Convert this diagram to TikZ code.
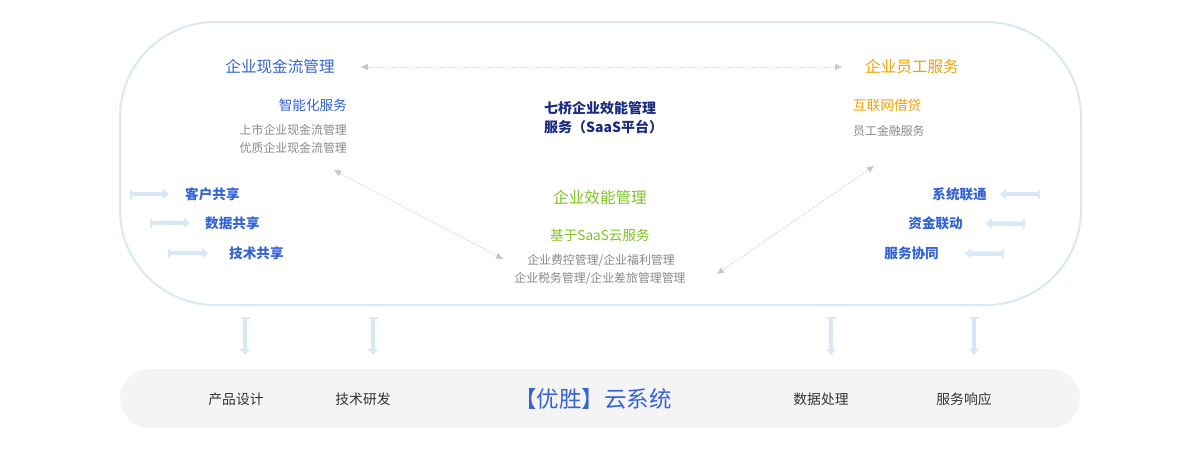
\documentclass[tikz,border=0pt]{standalone}
\usepackage{fontspec}
\setmainfont{Noto Sans CJK SC}
\usetikzlibrary{arrows.meta}
\definecolor{qblue}{RGB}{51,99,214}
\definecolor{qorange}{RGB}{245,160,0}
\definecolor{qgreen}{RGB}{124,197,34}
\definecolor{qnavy}{RGB}{27,42,128}
\definecolor{qgray}{RGB}{136,136,136}
\definecolor{qdark}{RGB}{51,51,51}
\definecolor{qline}{RGB}{216,232,246}
\definecolor{qdot}{RGB}{200,200,200}
\definecolor{qbar}{RGB}{244,244,244}
\begin{document}
\begin{tikzpicture}[x=1pt, y=-1pt, >={Triangle[length=7pt,width=6pt]},
    txt/.style={inner sep=1pt},
    big/.style={txt, font=\fontsize{15.6}{18}\selectfont},
    mid/.style={txt, font=\fontsize{13.6}{16}\selectfont},
    small/.style={txt, text=qgray, font=\fontsize{11.9}{14}\selectfont},
    dots/.style={qdot, line width=1pt, dash pattern=on 1pt off 2pt, <->},
    fat/.style={qline, line width=4.5pt, {Bar[width=9pt,line width=2pt]}-{Triangle[length=6pt,width=10pt]}}]
  \useasboundingbox (0,0) rectangle (1200,458);
  % outer frame and base bar
  \draw[qline, line width=2pt, rounded corners=95pt] (120,22) rectangle (1081,305);
  \fill[qbar, rounded corners=29.5pt] (120,369) rectangle (1080,428);

  % top row
  \node[big, text=qblue] (cash) at (280,67) {企业现金流管理};
  \node[big, text=qorange] (staff) at (912,67) {企业员工服务};
  \draw[dots, shorten <=25pt, shorten >=22pt] (cash) -- (staff);

  \node[mid, text=qblue, anchor=east] (smart) at (348,105) {智能化服务};
  \node[small, anchor=east] (listed) at (348,130) {上市企业现金流管理};
  \node[small, anchor=east] (quality) at (348,148) {优质企业现金流管理};

  \node[mid, text=qnavy, font=\fontsize{14}{16}\selectfont\bfseries, anchor=west] (qiqiao) at (543,108) {七桥企业效能管理};
  \node[mid, text=qnavy, font=\fontsize{14}{16}\selectfont\bfseries, anchor=west] (saas) at (543,127) {服务（SaaS平台）};

  \node[mid, text=qorange, anchor=west] (loan) at (852,105) {互联网借贷};
  \node[small, anchor=west] (finance) at (852,131) {员工金融服务};

  % middle
  \node[big, text=qgreen] (eff) at (600,198) {企业效能管理};
  \node[mid, text=qgreen] (cloud) at (600,235) {基于SaaS云服务};
  \node[small] (fee) at (601,261) {企业费控管理/企业福利管理};
  \node[small] (tax) at (600,279) {企业税务管理/企业差旅管理管理};

  \coordinate (dl1) at (334,170);
  \coordinate (dl2) at (503,259);
  \coordinate (dr1) at (874,166);
  \coordinate (dr2) at (717,274);
  \draw[dots] (dl1) -- (dl2);
  \draw[dots] (dr1) -- (dr2);

  % left shares
  \node[mid, text=qblue, font=\fontsize{13.6}{16}\selectfont\bfseries, anchor=west] (client) at (184,194) {客户共享};
  \node[mid, text=qblue, font=\fontsize{13.6}{16}\selectfont\bfseries, anchor=west] (data) at (204,223) {数据共享};
  \node[mid, text=qblue, font=\fontsize{13.6}{16}\selectfont\bfseries, anchor=west] (tech) at (228,253) {技术共享};
  \coordinate (lc) at (130,194);
  \coordinate (ld) at (150,223);
  \coordinate (lt) at (168,253);
  \draw[fat, shorten >=15pt] (lc) -- (client.west);
  \draw[fat, shorten >=14pt] (ld) -- (data.west);
  \draw[fat, shorten >=20pt] (lt) -- (tech.west);

  % right links
  \node[mid, text=qblue, font=\fontsize{13.6}{16}\selectfont\bfseries, anchor=east] (system) at (988,194) {系统联通};
  \node[mid, text=qblue, font=\fontsize{13.6}{16}\selectfont\bfseries, anchor=east] (fund) at (964,223) {资金联动};
  \node[mid, text=qblue, font=\fontsize{13.6}{16}\selectfont\bfseries, anchor=east] (coop) at (940,253) {服务协同};
  \coordinate (rs) at (1040,194);
  \coordinate (rf) at (1025,224);
  \coordinate (rc) at (1004,254);
  \draw[fat, shorten >=12pt] (rs) -- (system.east);
  \draw[fat, shorten >=22pt] (rf) -- (fund.east);
  \draw[fat, shorten >=25pt] (rc) -- (coop.east);

  % down arrows
  \coordinate (d1) at (245,317);  \coordinate (e1) at (245,355);
  \coordinate (d2) at (373,317);  \coordinate (e2) at (373,355);
  \coordinate (d3) at (831,317);  \coordinate (e3) at (831,355);
  \coordinate (d4) at (974,317);  \coordinate (e4) at (974,355);
  \draw[fat] (d1) -- (e1);
  \draw[fat] (d2) -- (e2);
  \draw[fat] (d3) -- (e3);
  \draw[fat] (d4) -- (e4);

  % base bar
  \node[mid, text=qdark, font=\fontsize{13.8}{16}\selectfont] (design) at (236,399) {产品设计};
  \node[mid, text=qdark, font=\fontsize{13.8}{16}\selectfont] (rnd) at (363,399) {技术研发};
  \node[txt, text=qblue, font=\fontsize{22.5}{26}\selectfont] (youshen) at (593,399) {【优胜】云系统};
  \node[mid, text=qdark, font=\fontsize{13.8}{16}\selectfont] (process) at (821,399) {数据处理};
  \node[mid, text=qdark, font=\fontsize{13.8}{16}\selectfont] (respond) at (964,399) {服务响应};
\end{tikzpicture}
\end{document}
